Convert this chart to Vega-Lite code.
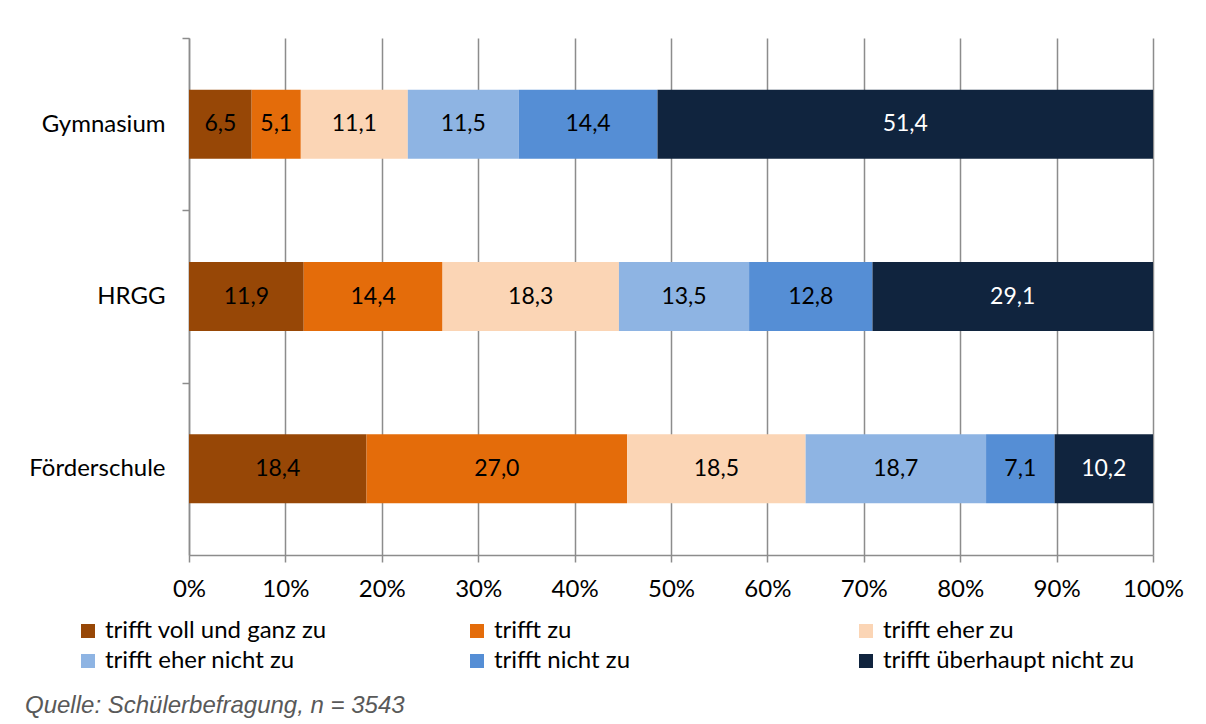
{
  "$schema": "https://vega.github.io/schema/vega-lite/v6.json",
  "width": 964,
  "height": 517,
  "autosize": {"type": "none"},
  "padding": {"left": 189, "top": 38, "right": 53, "bottom": 169},
  "background": "white",
  "config": {
    "locale": {"number": {"decimal": ",", "thousands": ".", "grouping": [3], "currency": ["", " €"]}},
    "view": {"stroke": null},
    "font": "Lato"
  },
  "title": {
    "text": "Quelle: Schülerbefragung, n = 3543",
    "orient": "bottom",
    "anchor": "start",
    "frame": "group",
    "dx": -164,
    "offset": 21,
    "font": "Liberation Sans",
    "fontStyle": "italic",
    "fontWeight": "normal",
    "fontSize": 24,
    "color": "#595959"
  },
  "data": {
    "values": [
      {"schule": "Gymnasium", "kat": "trifft voll und ganz zu", "k": 1, "wert": 6.5},
      {"schule": "Gymnasium", "kat": "trifft zu", "k": 2, "wert": 5.1},
      {"schule": "Gymnasium", "kat": "trifft eher zu", "k": 3, "wert": 11.1},
      {"schule": "Gymnasium", "kat": "trifft eher nicht zu", "k": 4, "wert": 11.5},
      {"schule": "Gymnasium", "kat": "trifft nicht zu", "k": 5, "wert": 14.4},
      {"schule": "Gymnasium", "kat": "trifft überhaupt nicht zu", "k": 6, "wert": 51.4},
      {"schule": "HRGG", "kat": "trifft voll und ganz zu", "k": 1, "wert": 11.9},
      {"schule": "HRGG", "kat": "trifft zu", "k": 2, "wert": 14.4},
      {"schule": "HRGG", "kat": "trifft eher zu", "k": 3, "wert": 18.3},
      {"schule": "HRGG", "kat": "trifft eher nicht zu", "k": 4, "wert": 13.5},
      {"schule": "HRGG", "kat": "trifft nicht zu", "k": 5, "wert": 12.8},
      {"schule": "HRGG", "kat": "trifft überhaupt nicht zu", "k": 6, "wert": 29.1},
      {"schule": "Förderschule", "kat": "trifft voll und ganz zu", "k": 1, "wert": 18.4},
      {"schule": "Förderschule", "kat": "trifft zu", "k": 2, "wert": 27.0},
      {"schule": "Förderschule", "kat": "trifft eher zu", "k": 3, "wert": 18.5},
      {"schule": "Förderschule", "kat": "trifft eher nicht zu", "k": 4, "wert": 18.7},
      {"schule": "Förderschule", "kat": "trifft nicht zu", "k": 5, "wert": 7.1},
      {"schule": "Förderschule", "kat": "trifft überhaupt nicht zu", "k": 6, "wert": 10.2}
    ]
  },
  "encoding": {
    "y": {
      "field": "schule",
      "type": "nominal",
      "sort": ["Gymnasium", "HRGG", "Förderschule"],
      "scale": {"paddingInner": 0.6, "paddingOuter": 0.3},
      "axis": {
        "title": null,
        "tickOffset": -86.17,
        "labelOffset": 86.17,
        "domainColor": "#8c8c8c",
        "domainWidth": 1.5,
        "tickColor": "#8c8c8c",
        "tickWidth": 1.5,
        "tickSize": 7,
        "labelPadding": 17,
        "labelFontSize": 24,
        "labelColor": "#000000",
        "labelFont": "Lato"
      }
    }
  },
  "layer": [
    {
      "mark": {"type": "bar"},
      "encoding": {
        "x": {
          "field": "wert",
          "type": "quantitative",
          "stack": "normalize",
          "scale": {"domain": [0, 1]},
          "axis": {
            "title": null,
            "format": ".0%",
            "values": [0, 0.1, 0.2, 0.3, 0.4, 0.5, 0.6, 0.7, 0.8, 0.9, 1],
            "labelFlush": false,
            "labelOverlap": false,
            "grid": true,
            "gridColor": "#8c8c8c",
            "gridWidth": 1.5,
            "domainColor": "#8c8c8c",
            "domainWidth": 1.5,
            "tickColor": "#8c8c8c",
            "tickWidth": 1.5,
            "tickSize": 7,
            "labelPadding": 15,
            "labelFontSize": 24,
            "labelColor": "#000000",
            "labelFont": "Lato"
          }
        },
        "color": {
          "field": "kat",
          "type": "nominal",
          "scale": {
            "domain": ["trifft voll und ganz zu", "trifft zu", "trifft eher zu", "trifft eher nicht zu", "trifft nicht zu", "trifft überhaupt nicht zu"],
            "range": ["#974706", "#E46C0A", "#FBD5B5", "#8EB4E3", "#558ED5", "#10243E"]
          },
          "legend": {
            "title": null,
            "orient": "none",
            "direction": "horizontal",
            "legendX": -113,
            "legendY": 581,
            "columns": 3,
            "gridAlign": "all",
            "columnPadding": 108,
            "rowPadding": 6,
            "symbolType": "square",
            "symbolSize": 196,
            "symbolStrokeWidth": 0,
            "symbolOpacity": 1,
            "labelFontSize": 24,
            "labelColor": "#000000",
            "labelFont": "Lato",
            "labelLimit": 400,
            "labelOffset": 5
          }
        },
        "order": {"field": "k", "type": "quantitative"}
      }
    },
    {
      "mark": {"type": "text", "fontSize": 23, "font": "Lato", "baseline": "middle", "align": "center"},
      "encoding": {
        "x": {"field": "wert", "type": "quantitative", "stack": "normalize", "bandPosition": 0.5},
        "detail": {"field": "kat"},
        "order": {"field": "k", "type": "quantitative"},
        "text": {"field": "wert", "type": "quantitative", "format": ".1f"},
        "color": {
          "condition": {"test": "datum.kat === 'trifft überhaupt nicht zu'", "value": "#ffffff"},
          "value": "#000000"
        }
      }
    }
  ]
}
